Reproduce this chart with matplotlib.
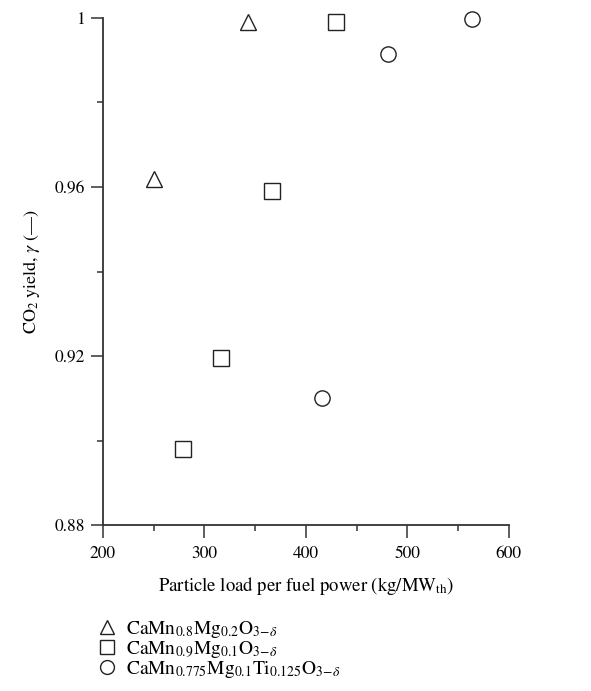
import matplotlib
matplotlib.use('Agg')
import numpy as np
from matplotlib import pyplot as plt
from matplotlib.lines import Line2D

plt.rcParams['font.family'] = ['STIXGeneral', 'DejaVu Serif']
plt.rcParams['mathtext.fontset'] = 'stix'

# data
tri_x = [250, 343]
tri_y = [0.962, 0.999]
sq_x = [279, 316, 367, 430]
sq_y = [0.898, 0.9195, 0.959, 0.999]
circ_x = [416, 481, 564]
circ_y = [0.910, 0.9915, 0.9998]

labels = [r'CaMn$_{0.8}$Mg$_{0.2}$O$_{3\!-\!\delta}$',
          r'CaMn$_{0.9}$Mg$_{0.1}$O$_{3\!-\!\delta}$',
          r'CaMn$_{0.775}$Mg$_{0.1}$Ti$_{0.125}$O$_{3\!-\!\delta}$']
xticks = [200, 300, 400, 500, 600]
yticks = [0.88, 0.92, 0.96, 1.0]
ytick_labels = ['0.88', '0.92', '0.96', '1']

fig = plt.figure(figsize=(5.91, 6.91), dpi=100)
ax = fig.add_axes([0.174, 0.240, 0.687, 0.734])

mk = dict(linestyle='none', markerfacecolor='white', markeredgecolor='#222222',
          markeredgewidth=1.0)
ax.plot(tri_x, tri_y, marker='^', markersize=11, clip_on=False, **mk)
ax.plot(sq_x, sq_y, marker='s', markersize=11, clip_on=False, **mk)
ax.plot(circ_x, circ_y, marker='o', markersize=11, clip_on=False, **mk)

ax.set_xlim(200, 600)
ax.set_ylim(0.88, 1.0)
ax.set_xticks(xticks)
ax.set_yticks(yticks)
ax.set_yticklabels(ytick_labels)
ax.set_xticks([250, 350, 450, 550], minor=True)
ax.set_yticks([0.90, 0.94, 0.98], minor=True)

for s in ['top', 'right']:
    ax.spines[s].set_visible(False)
for s in ['left', 'bottom']:
    ax.spines[s].set_linewidth(1.3)
    ax.spines[s].set_color('#333333')
ax.tick_params(which='major', direction='out', length=9, width=1.1,
               color='#333333', labelsize=12.5, pad=4)
ax.tick_params(axis='x', which='major', pad=6)
ax.tick_params(which='minor', direction='out', length=4.5, width=1.1,
               color='#333333')

ax.set_xlabel(r'Particle load per fuel power (kg/MW$_{\mathrm{th}}$)',
              fontsize=13.5, labelpad=9)
ax.set_ylabel(r'CO$_2$ yield, $\gamma$ (—)', fontsize=13, labelpad=9)

handles = [Line2D([], [], marker=m, markersize=10, **mk) for m in ['^', 's', 'o']]
fig.legend(handles, labels, loc='upper left', bbox_to_anchor=(0.148, 0.118),
           frameon=False, fontsize=14, borderpad=0.0,
           handlelength=1.0, handletextpad=0.5, labelspacing=-0.05)

fig.savefig('out.png', dpi=100)
